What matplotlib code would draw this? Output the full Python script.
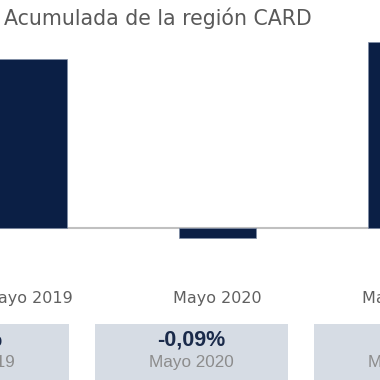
import matplotlib.pyplot as plt
import matplotlib.transforms as mtransforms
from matplotlib.patches import Rectangle

# Data
periods = ["Mayo 2019", "Mayo 2020", "Mayo 2021"]
values = [1.52, -0.09, 1.67]
card_values = ["1,52%", "-0,09%", "1,67%"]
card_labels = ["Mayo 2019", "Mayo 2020", "Mayo 2021"]

navy = "#0b1f45"
grey_text = "#595959"

fig = plt.figure(figsize=(3.8, 3.8), dpi=100)
ax = fig.add_axes([0, 0, 1, 1])

# chart is cropped: place bars so that only part of first/last is visible
x = list(range(len(values)))
ax.bar(x, values, width=0.407, color=navy, edgecolor="#7f8da6", linewidth=0.5, zorder=3)
ax.axhline(0, color="#c0c0c0", linewidth=1.5, zorder=2)

ax.set_xlim(-0.1508, 1.8598)
ax.set_ylim(-1.368, 2.052)
ax.axis("off")

# title
fig.text(4 / 380, 1 - 18 / 380, "Acumulada de la región CARD", fontsize=14.8,
         color=grey_text, ha="left", va="center")

# category labels under the axis
trans = mtransforms.blended_transform_factory(ax.transData, fig.transFigure)
for i, lab in enumerate(periods):
    ax.text(i, 1 - 298 / 380, lab, transform=trans, fontsize=11.5,
            color="#606060", ha="center", va="center", clip_on=False)

# summary cards
card_w = 193
gap = 26
first_left = -124
for i in range(len(card_values)):
    left = first_left + i * (card_w + gap)
    fig.patches.append(Rectangle((left / 380, 0), card_w / 380, (380 - 324) / 380,
                                 transform=fig.transFigure, facecolor="#d6dce4",
                                 edgecolor="none"))
    cx = (left + card_w / 2) / 380
    fig.text(cx, 1 - 340 / 380, card_values[i], fontsize=15.5, fontweight="bold",
             family="Liberation Sans", color="#1a2a4a", ha="center", va="center")
    fig.text(cx, 1 - 362 / 380, card_labels[i], fontsize=12.3,
             family="Liberation Sans", color="#8c8c8c", ha="center", va="center")

fig.savefig("out.png", dpi=100)
